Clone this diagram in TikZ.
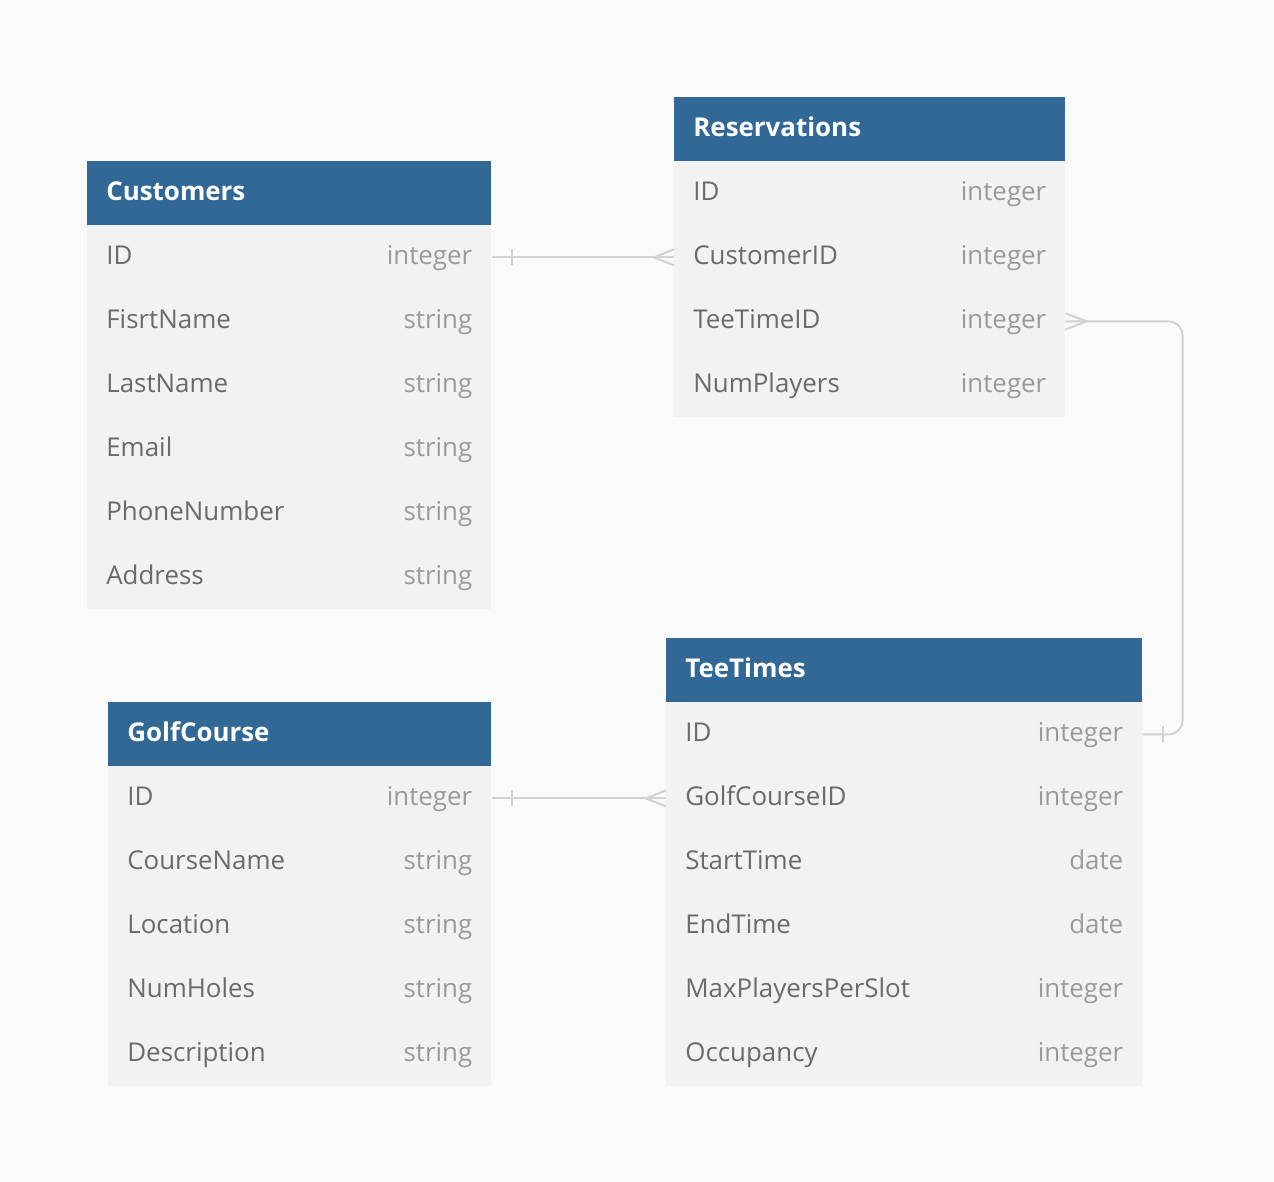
\documentclass[tikz,border=0pt]{standalone}
\usepackage{fontspec}
\setmainfont{Open Sans}
\usepackage{tikz}
\definecolor{headblue}{HTML}{326896}
\definecolor{rowgray}{HTML}{F2F2F2}
\definecolor{pagebg}{HTML}{FAFAFA}
\definecolor{namegray}{HTML}{6A6A6A}
\definecolor{typegray}{HTML}{9A9A9A}
\definecolor{linkgray}{HTML}{D2D2D2}
\newcommand{\fld}[2]{#1\hfill{\color{typegray}#2}}

\begin{document}
\begin{tikzpicture}[x=0.02cm,y=-0.02cm,
    tbl/.style={anchor=north west,inner xsep=0.38cm,inner ysep=0pt,minimum height=1.28cm,
      text height=0.37cm,text depth=0.08cm,align=left,font=\fontsize{14.74pt}{18pt}\selectfont},
    thead/.style={tbl,fill=headblue,text=white,font=\fontsize{14.74pt}{18pt}\selectfont\bfseries},
    trow/.style={tbl,fill=rowgray,text=namegray},
    link/.style={draw=linkgray,line width=0.04cm}]
  \fill[pagebg] (0,0) rectangle (1274,1182);
  \useasboundingbox (0,0) rectangle (1274,1182);
  % Customers
  \node[thead,text width=7.32cm] (cH) at (87,161) {Customers};
  \node[trow,text width=7.32cm] (cID) at (87,225) {\fld{ID}{integer}};
  \node[trow,text width=7.32cm] (cFirst) at (87,289) {\fld{FisrtName}{string}};
  \node[trow,text width=7.32cm] (cLast) at (87,353) {\fld{LastName}{string}};
  \node[trow,text width=7.32cm] (cMail) at (87,417) {\fld{Email}{string}};
  \node[trow,text width=7.32cm] (cPhone) at (87,481) {\fld{PhoneNumber}{string}};
  \node[trow,text width=7.32cm] (cAddr) at (87,545) {\fld{Address}{string}};
  % Reservations
  \node[thead,text width=7.06cm] (rH) at (674,97) {Reservations};
  \node[trow,text width=7.06cm] (rID) at (674,161) {\fld{ID}{integer}};
  \node[trow,text width=7.06cm] (rCust) at (674,225) {\fld{CustomerID}{integer}};
  \node[trow,text width=7.06cm] (rTee) at (674,289) {\fld{TeeTimeID}{integer}};
  \node[trow,text width=7.06cm] (rNum) at (674,353) {\fld{NumPlayers}{integer}};
  % TeeTimes
  \node[thead,text width=8.76cm] (tH) at (666,638) {TeeTimes};
  \node[trow,text width=8.76cm] (tID) at (666,702) {\fld{ID}{integer}};
  \node[trow,text width=8.76cm] (tGolf) at (666,766) {\fld{GolfCourseID}{integer}};
  \node[trow,text width=8.76cm] (tStart) at (666,830) {\fld{StartTime}{date}};
  \node[trow,text width=8.76cm] (tEnd) at (666,894) {\fld{EndTime}{date}};
  \node[trow,text width=8.76cm] (tMax) at (666,958) {\fld{MaxPlayersPerSlot}{integer}};
  \node[trow,text width=8.76cm] (tOcc) at (666,1022) {\fld{Occupancy}{integer}};
  % GolfCourse
  \node[thead,text width=6.90cm] (gH) at (108,702) {GolfCourse};
  \node[trow,text width=6.90cm] (gID) at (108,766) {\fld{ID}{integer}};
  \node[trow,text width=6.90cm] (gName) at (108,830) {\fld{CourseName}{string}};
  \node[trow,text width=6.90cm] (gLoc) at (108,894) {\fld{Location}{string}};
  \node[trow,text width=6.90cm] (gHoles) at (108,958) {\fld{NumHoles}{string}};
  \node[trow,text width=6.90cm] (gDesc) at (108,1022) {\fld{Description}{string}};
  % relations
  \draw[link] (cID.east) -- (rCust.west);
  \draw[link] (cID.east) ++(20,-8) -- ++(0,16);
  \draw[link] (rCust.west) ++(0,-8) -- ++(-20,8) -- ++(20,8);
  \draw[link] (gID.east) -- (tGolf.west);
  \draw[link] (gID.east) ++(20,-8) -- ++(0,16);
  \draw[link] (tGolf.west) ++(0,-8) -- ++(-20,8) -- ++(20,8);
  \draw[link,rounded corners=0.28cm] (rTee.east) -| ([xshift=0.8cm]tID.east) -- (tID.east);
  \draw[link] (rTee.east) ++(0,-8) -- ++(21,8) -- ++(-21,8);
  \draw[link] (tID.east) ++(20,-8) -- ++(0,16);
\end{tikzpicture}
\end{document}
